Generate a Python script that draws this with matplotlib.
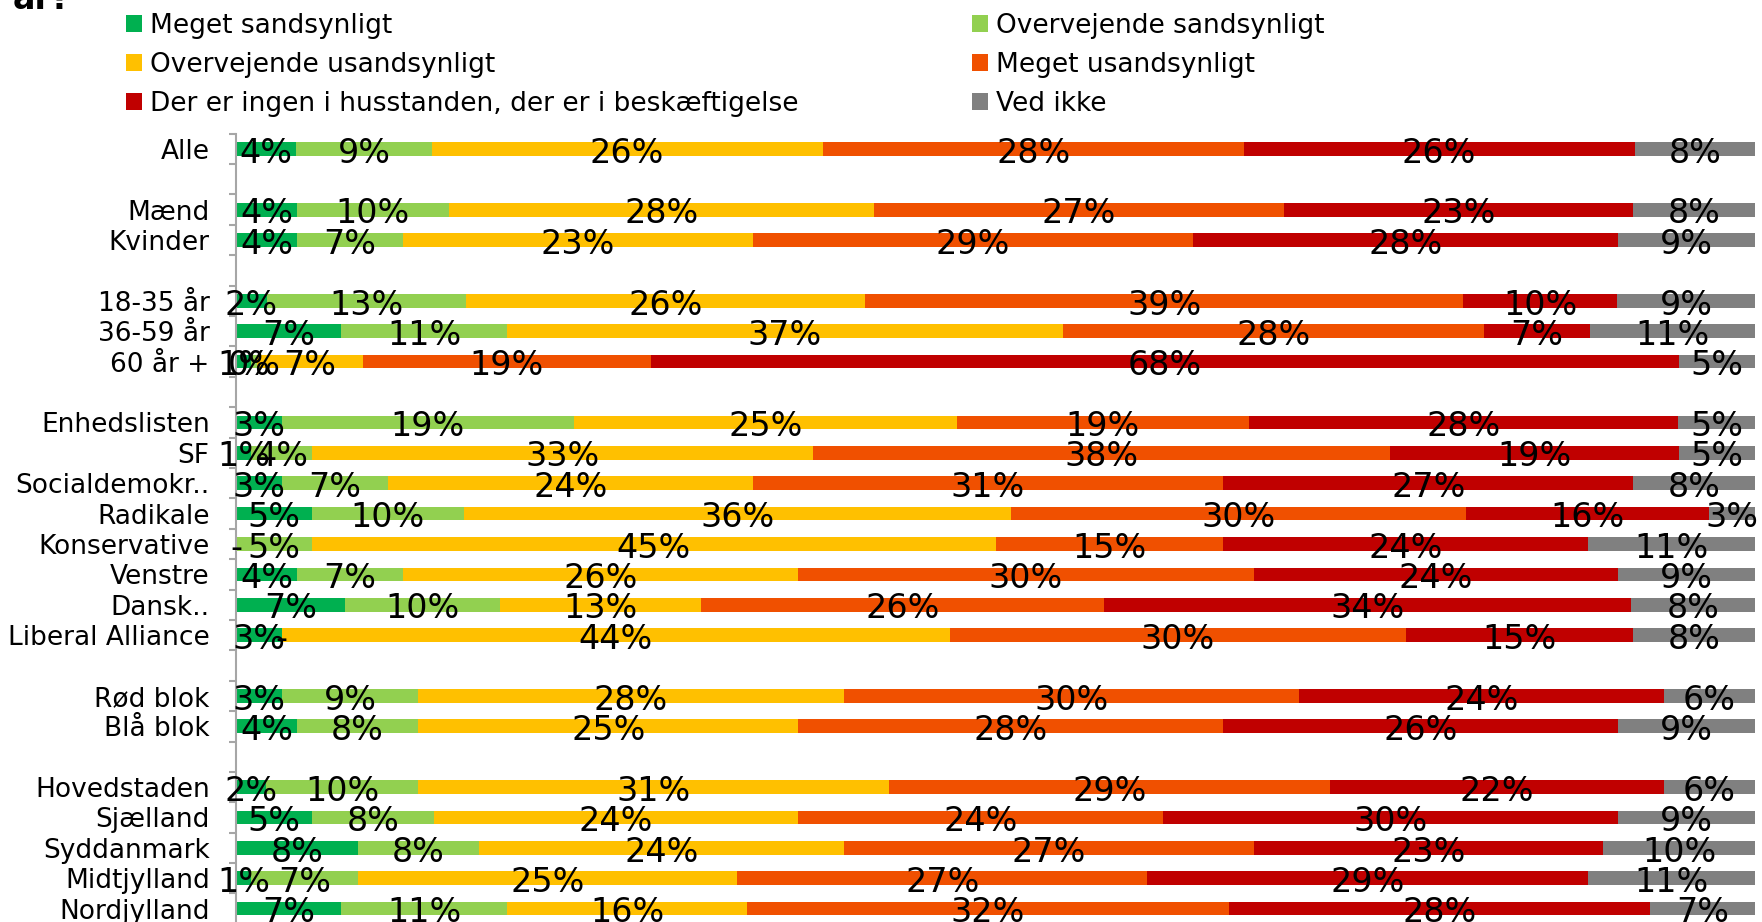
import numpy as np
import matplotlib.pyplot as plt

# series (legend order) and colours
series = ['Meget sandsynligt', 'Overvejende sandsynligt', 'Overvejende usandsynligt',
          'Meget usandsynligt', 'Der er ingen i husstanden, der er i beskæftigelse', 'Ved ikke']
colors = ['#00B050', '#92D050', '#FFC000', '#F05000', '#C00000', '#808080']

# categories, grouped (a blank row sits between groups)
groups = [
    ['Alle'],
    ['Mænd', 'Kvinder'],
    ['18-35 år', '36-59 år', '60 år +'],
    ['Enhedslisten', 'SF', 'Socialdemokr..', 'Radikale', 'Konservative', 'Venstre',
     'Dansk..', 'Liberal Alliance'],
    ['Rød blok', 'Blå blok'],
    ['Hovedstaden', 'Sjælland', 'Syddanmark', 'Midtjylland', 'Nordjylland'],
]

meget_sandsynligt = [4, 4, 4, 2, 7, 1, 3, 1, 3, 5, 0, 4, 7, 3, 3, 4, 2, 5, 8, 1, 7]
overvejende_sandsynligt = [9, 10, 7, 13, 11, 0.4, 19, 4, 7, 10, 5, 7, 10, 0, 9, 8, 10, 8, 8, 7, 11]
overvejende_usandsynligt = [26, 28, 23, 26, 37, 7, 25, 33, 24, 36, 45, 26, 13, 44, 28, 25, 31, 24, 24, 25, 16]
meget_usandsynligt = [28, 27, 29, 39, 28, 19, 19, 38, 31, 30, 15, 30, 26, 30, 30, 28, 29, 24, 27, 27, 32]
ingen_beskaeftiget = [26, 23, 28, 10, 7, 68, 28, 19, 27, 16, 24, 24, 34, 15, 24, 26, 22, 30, 23, 29, 28]
ved_ikke = [8, 8, 9, 9, 11, 5, 5, 5, 8, 3, 11, 9, 8, 8, 6, 9, 6, 9, 10, 11, 7]

data = np.array([meget_sandsynligt, overvejende_sandsynligt, overvejende_usandsynligt,
                 meget_usandsynligt, ingen_beskaeftiget, ved_ikke], dtype=float)

# y positions with a gap slot between groups
labels, ypos = [], []
slot = 0
for g in groups:
    for name in g:
        labels.append(name)
        ypos.append(slot)
        slot += 1
    slot += 1
n_slots = slot - 1
ypos = np.array(ypos)

# 100% stacked
shares = data / data.sum(axis=0) * 100

fig = plt.figure(figsize=(17.62, 9.22), dpi=100)
ax = fig.add_axes([0.134, -0.002, 0.862, 0.857])

left = np.zeros(len(labels))
handles = []
for i in range(len(series)):
    bars = ax.barh(ypos, shares[i], left=left, height=0.45, color=colors[i],
                   label=series[i], linewidth=0)
    handles.append(bars)
    for y, l, w, v in zip(ypos, left, shares[i], data[i]):
        txt = '-' if v == 0 else f'{v:.0f}%'
        ax.annotate(txt, (l + w / 2, y), xytext=(0, -3), textcoords='offset points',
                    ha='center', va='center', fontsize=24, color='black')
    left += shares[i]

ax.set_xlim(0, 100)
ax.set_ylim(n_slots - 0.5, -0.5)
ax.set_yticks(ypos, labels)
ax.set_yticks(np.arange(-0.5, n_slots + 0.5), minor=True)
ax.tick_params(axis='y', which='major', length=0, pad=19, labelsize=19)
ax.tick_params(axis='y', which='minor', length=5, width=1.5, color='#A6A6A6', direction='out')
ax.set_xticks([])
for s in ['top', 'right', 'bottom']:
    ax.spines[s].set_visible(False)
ax.spines['left'].set_color('#A6A6A6')
ax.spines['left'].set_linewidth(1.5)

# legend filled row by row like the original (2 columns)
order = [0, 2, 4, 1, 3, 5]
fig.legend([handles[k] for k in order], [series[k] for k in order], ncol=2,
           loc='upper left', bbox_to_anchor=(0.058, 1.012), frameon=False,
           fontsize=19, handlelength=0.6, handleheight=0.6, handletextpad=0.3,
           labelspacing=0.5, columnspacing=6.6)

# title remnant cut off at the top edge
fig.text(0.007, 0.99, 'år?', fontsize=24, fontweight='bold', va='baseline', ha='left')

fig.savefig('out.png', dpi=100)
